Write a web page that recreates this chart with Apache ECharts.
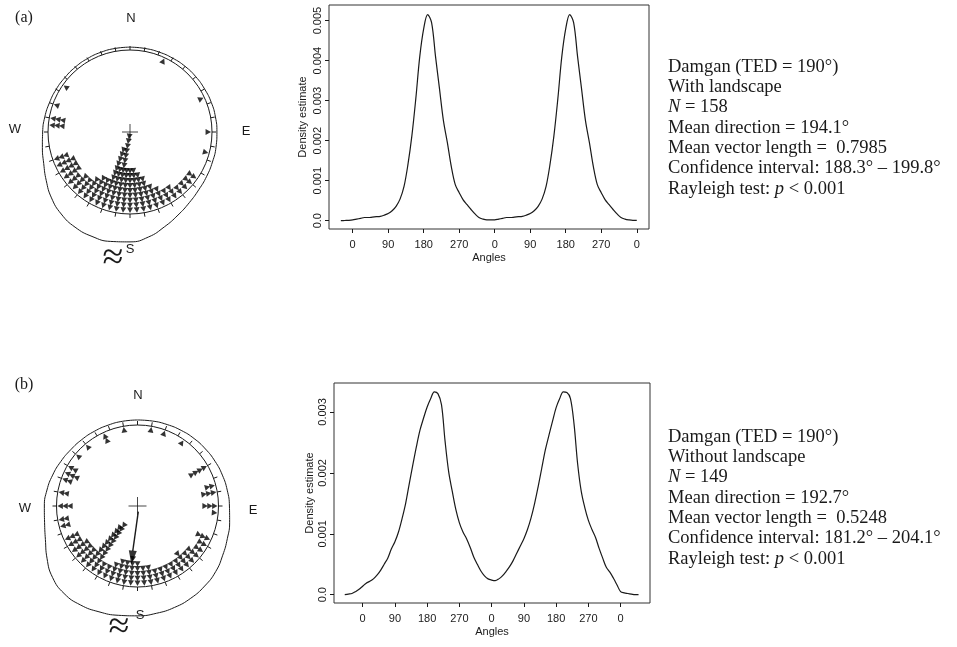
<!DOCTYPE html>
<html><head><meta charset="utf-8">
<script src="https://cdn.jsdelivr.net/npm/echarts@6/dist/echarts.min.js"></script>
<style>html,body{margin:0;padding:0;background:#fff}#c{width:957px;height:647px}</style>
</head><body><div id="c"></div><script>
// ---- density curves (x = angle in degrees, unwrapped over two turns) ----
const anglesA = [-30,-20,-10,0,10,20,30,40,50,60,70,80,90,100,110,120,130,140,150,160,170,180,190,200,210,220,230,240,250,260,270,280,290,300,310,320,330,340,350,
 360,370,380,390,400,410,420,430,440,450,460,470,480,490,500,510,520,530,540,550,560,570,580,590,600,610,620,630,640,650,660,670,680,690,700,710,720];
const densityA = [0,0.000005,0.00001,0.00002,0.00004,0.00006,0.00008,0.00008,0.00009,0.0001,0.00011,0.00014,0.00018,0.00025,0.00036,0.00054,0.00085,0.0014,0.00212,0.00305,0.0041,0.0048,0.00515,0.00495,0.0041,0.0033,0.0025,0.00195,0.00135,0.0009,0.0007,0.00052,0.0004,0.00028,0.00017,0.00008,0.00004,0.00002,0.00002,
 0.00002,0.00004,0.00006,0.00008,0.00008,0.00009,0.0001,0.00011,0.00014,0.00018,0.00025,0.00036,0.00054,0.00085,0.0014,0.00212,0.00305,0.0041,0.0048,0.00515,0.00495,0.0041,0.0033,0.0025,0.00195,0.00135,0.0009,0.0007,0.00052,0.0004,0.00028,0.00017,0.00008,0.00004,0.00002,0.00001,0.00001];
const anglesB = [-50,-40,-30,-20,-10,0,10,20,30,40,50,60,70,80,90,100,110,120,130,140,150,160,170,180,190,200,210,220,230,240,250,260,270,280,290,300,310,320,330,340,350,
 360,370,380,390,400,410,420,430,440,450,460,470,480,490,500,510,520,530,540,550,560,570,580,590,600,610,620,630,640,650,660,670,680,690,700,710,720,730,740,750,760,770];
const densityB = [0,0.00001,0.00002,0.00005,0.00009,0.00014,0.00019,0.00022,0.00026,0.00032,0.0004,0.0005,0.0006,0.00075,0.00087,0.00103,0.00125,0.0015,0.00182,0.00213,0.00243,0.0027,0.0029,0.00308,0.00322,0.00333,0.0033,0.00312,0.00252,0.00202,0.0017,0.0014,0.00118,0.00103,0.00092,0.00078,0.00062,0.0005,0.00039,0.00031,0.00026,
 0.00024,0.00023,0.00026,0.00031,0.00038,0.00046,0.00056,0.00068,0.0008,0.00092,0.00107,0.00126,0.0015,0.00178,0.00208,0.00238,0.00262,0.00285,0.00307,0.00322,0.00333,0.00332,0.00322,0.0028,0.00215,0.0017,0.00143,0.00122,0.00107,0.00094,0.00076,0.0006,0.00045,0.00037,0.00027,0.00016,0.00005,0.00003,0.00002,0.00001,0,0];
const angleTicks = [0,90,180,270,360,450,540,630,720];
const densityTicksA = [0,0.001,0.002,0.003,0.004,0.005];
const densityTicksB = [0,0.001,0.002,0.003];

// ---- circular stacked plots: bin direction (deg, clockwise from N) and count ----
const binDirsA   = [25,65,90,105,125,130,135,140,145,150,155,160,165,170,175,180,185,190,195,200,205,210,215,220,225,230,235,240,245,250,275,280,290,305];
const binCountsA = [1, 1, 1, 1,  2,  2,  2,  2,  3,  3,  4,  5,  7,  8,  9,  9,  9,  16, 9,  13, 6,  6,  5,  4,  4,  3,  4,  4,  4,  3,  3,  3,  1,  1];
const binDirsB   = [350,10,20,35,335,320,310,300,295,290,280,270,260,255,245,240,60,75,80,90,95,115,120,125,130,135,140,145,150,155,160,165,170,175,180,185,190,195,200,205,210,215,220,225,230,235];
const binCountsB = [1,  1, 1, 1, 2,  1,  1,  2,  3,  2,  2,  3,  2,  2,  3,  3,  4, 2, 3, 3, 1, 3,  2,  2,  3,  3,  4,  3,  3,  3,  3,  3,  4,  4,  5,  6,  5,  5,  4,  3,  3,  12, 11, 4,  4,  4];
// landscape outline: radius (relative to the inner circle) every 10 degrees from N, clockwise
const outlineDirs = [0,10,20,30,40,50,60,70,80,90,100,110,120,130,140,150,160,170,180,190,200,210,220,230,240,250,260,270,280,290,300,310,320,330,340,350,360];
const outlineRadA = [1.035,1.035,1.037,1.04,1.045,1.048,1.05,1.055,1.058,1.06,1.065,1.07,1.08,1.095,1.125,1.17,1.23,1.3,1.34,1.355,1.355,1.34,1.305,1.25,1.18,1.12,1.085,1.065,1.055,1.045,1.04,1.035,1.035,1.035,1.035,1.035,1.035];
const outlineRadB = [1.062,1.065,1.07,1.078,1.087,1.095,1.105,1.115,1.125,1.135,1.155,1.18,1.215,1.26,1.29,1.315,1.333,1.345,1.356,1.37,1.39,1.41,1.41,1.37,1.29,1.21,1.165,1.15,1.135,1.115,1.095,1.078,1.07,1.065,1.062,1.062,1.062];
const meanArrowB = {from:[0.07,172], to:[0.56,186], head:[0.64,186]};

const textA = ['Damgan (TED = 190°)','With landscape','{i|N} = 158','Mean direction = 194.1°','Mean vector length =  0.7985','Confidence interval: 188.3° – 199.8°','Rayleigh test: {i|p} < 0.001'];
const textB = ['Damgan (TED = 190°)','Without landscape','{i|N} = 149','Mean direction = 192.7°','Mean vector length =  0.5248','Confidence interval: 181.2° – 204.1°','Rayleigh test: {i|p} < 0.001'];

// ---------------------------------------------------------------
const chart = echarts.init(document.getElementById('c'));
const INK = '#1a1a1a';
const STEP = 0.06;
function stack(dirs, counts){
  const out=[];
  dirs.forEach((d,i)=>{ for(let k=0;k<counts[i];k++){ out.push({value:[0.955-k*STEP, d], symbolRotate:-d}); } });
  return out;
}
function outline(dirs, rads){ return dirs.map((d,i)=>[rads[i], d]); }
const sansFont = '"Liberation Sans", Arial, sans-serif';
const serifFont = '"Liberation Serif", "Times New Roman", serif';
const TFS = 18.5;

function xAxisCfg(gi,min,max){
  return {gridIndex:gi,type:'value',min:min,max:max,
    axisLine:{show:false,onZero:false},
    axisTick:{show:true,customValues:angleTicks,length:4,lineStyle:{color:INK}},
    axisLabel:{customValues:angleTicks,formatter:v=>String(((v%360)+360)%360),fontFamily:sansFont,fontSize:11,color:INK,margin:10},
    splitLine:{show:false},
    name:'Angles',nameLocation:'middle',nameGap:23,nameTextStyle:{fontFamily:sansFont,fontSize:11,color:INK}};
}
function yAxisCfg(gi,min,max,ticks,gap){
  return {gridIndex:gi,type:'value',min:min,max:max,
    axisLine:{show:false,onZero:false},
    axisTick:{show:true,customValues:ticks,length:4,lineStyle:{color:INK}},
    axisLabel:{customValues:ticks,rotate:90,formatter:v=>v===0?'0.0':v.toFixed(3),fontFamily:sansFont,fontSize:11,color:INK,margin:6},
    splitLine:{show:false},
    name:'Density estimate',nameLocation:'middle',nameGap:gap,nameRotate:90,nameTextStyle:{fontFamily:sansFont,fontSize:11,color:INK}};
}
function angleAxisCfg(pi,visible){
  return {polarIndex:pi,type:'value',min:0,max:360,interval:10,startAngle:90,clockwise:true,
    axisLine:{show:visible,lineStyle:{color:INK,width:1}},axisTick:{show:visible,length:4,lineStyle:{color:INK}},
    axisLabel:{show:false},splitLine:{show:false}};
}
function radiusAxisCfg(pi,max){
  return {polarIndex:pi,type:'value',min:0,max:max,axisLine:{show:false},axisTick:{show:false},axisLabel:{show:false},splitLine:{show:false}};
}
const plusPath='path://M5,0L5,10M0,5L10,5';
function txt(t,x,y,size,font){
  return {type:'text',style:{text:t,x:x,y:y,fill:INK,font:size+'px '+font,textAlign:'center',textVerticalAlign:'middle'}};
}
function block(lines,x,y0){
  return lines.map((l,i)=>({type:'text',style:{text:l,x:x,y:y0+i*20.3,fill:INK,fontSize:TFS,fontFamily:serifFont,textAlign:'left',textVerticalAlign:'middle',
    rich:{i:{fontStyle:'italic',fontSize:TFS,fontFamily:serifFont,fill:INK}}}}));
}
const OUT = 1.5; // outer polar frame used for the landscape outline

const option = {
  animation:false,
  backgroundColor:'#fff',
  grid:[
    {left:329,top:5,width:320,height:224,show:true,borderColor:'#333',borderWidth:1,backgroundColor:'transparent'},
    {left:334,top:383,width:316,height:220,show:true,borderColor:'#333',borderWidth:1,backgroundColor:'transparent'}
  ],
  xAxis:[xAxisCfg(0,-60,751), xAxisCfg(1,-80,802)],
  yAxis:[yAxisCfg(0,-0.000207,0.00539,densityTicksA,21), yAxisCfg(1,-0.000136,0.003475,densityTicksB,19)],
  polar:[{center:[130,132],radius:82},{center:[137.5,506],radius:81},
         {center:[130,132],radius:82*OUT},{center:[137.5,506],radius:81*OUT}],
  angleAxis:[angleAxisCfg(0,true),angleAxisCfg(1,true),angleAxisCfg(2,false),angleAxisCfg(3,false)],
  radiusAxis:[radiusAxisCfg(0,1),radiusAxisCfg(1,1),radiusAxisCfg(2,OUT),radiusAxisCfg(3,OUT)],
  series:[
    {type:'line',xAxisIndex:0,yAxisIndex:0,data:anglesA.map((a,i)=>[a,densityA[i]]),smooth:0.35,showSymbol:false,symbol:'none',lineStyle:{color:INK,width:1.2}},
    {type:'line',xAxisIndex:1,yAxisIndex:1,data:anglesB.map((a,i)=>[a,densityB[i]]),smooth:0.35,showSymbol:false,symbol:'none',lineStyle:{color:INK,width:1.2}},
    {type:'line',coordinateSystem:'polar',polarIndex:2,data:outline(outlineDirs,outlineRadA),smooth:0.5,symbol:'none',showSymbol:false,lineStyle:{color:INK,width:1}},
    {type:'line',coordinateSystem:'polar',polarIndex:3,data:outline(outlineDirs,outlineRadB),smooth:0.5,symbol:'none',showSymbol:false,lineStyle:{color:INK,width:1}},
    {type:'scatter',coordinateSystem:'polar',polarIndex:0,data:stack(binDirsA,binCountsA),symbol:'triangle',symbolSize:[6,5.5],itemStyle:{color:'#000'}},
    {type:'scatter',coordinateSystem:'polar',polarIndex:1,data:stack(binDirsB,binCountsB),symbol:'triangle',symbolSize:[6,5.5],itemStyle:{color:'#000'}},
    {type:'scatter',coordinateSystem:'polar',polarIndex:0,data:[[0,0]],symbol:plusPath,symbolSize:16,itemStyle:{color:'none',borderColor:INK,borderWidth:1},z:1},
    {type:'scatter',coordinateSystem:'polar',polarIndex:1,data:[[0,0]],symbol:plusPath,symbolSize:18,itemStyle:{color:'none',borderColor:INK,borderWidth:1}},
    {type:'line',coordinateSystem:'polar',polarIndex:1,data:[meanArrowB.from,meanArrowB.to],symbol:'none',showSymbol:false,lineStyle:{color:INK,width:1.4}},
    {type:'scatter',coordinateSystem:'polar',polarIndex:1,data:[{value:meanArrowB.head,symbolRotate:-meanArrowB.head[1]}],symbol:'triangle',symbolSize:[8,14],itemStyle:{color:'#000'}}
  ],
  graphic:[
    txt('(a)',24,18,16,serifFont),
    txt('(b)',24,385,16,serifFont),
    txt('N',131,18,13,sansFont), txt('W',15,129,13,sansFont), txt('E',246,131,13,sansFont), txt('S',130,249,13,sansFont),
    txt('≈',113,259,38,serifFont),
    txt('N',138,395,13,sansFont), txt('W',25,508,13,sansFont), txt('E',253,510,13,sansFont), txt('S',140,615,13,sansFont),
    txt('≈',119,628,38,serifFont)
  ].concat(block(textA,668,67)).concat(block(textB,668,437))
};
chart.setOption(option);
</script></body></html>
